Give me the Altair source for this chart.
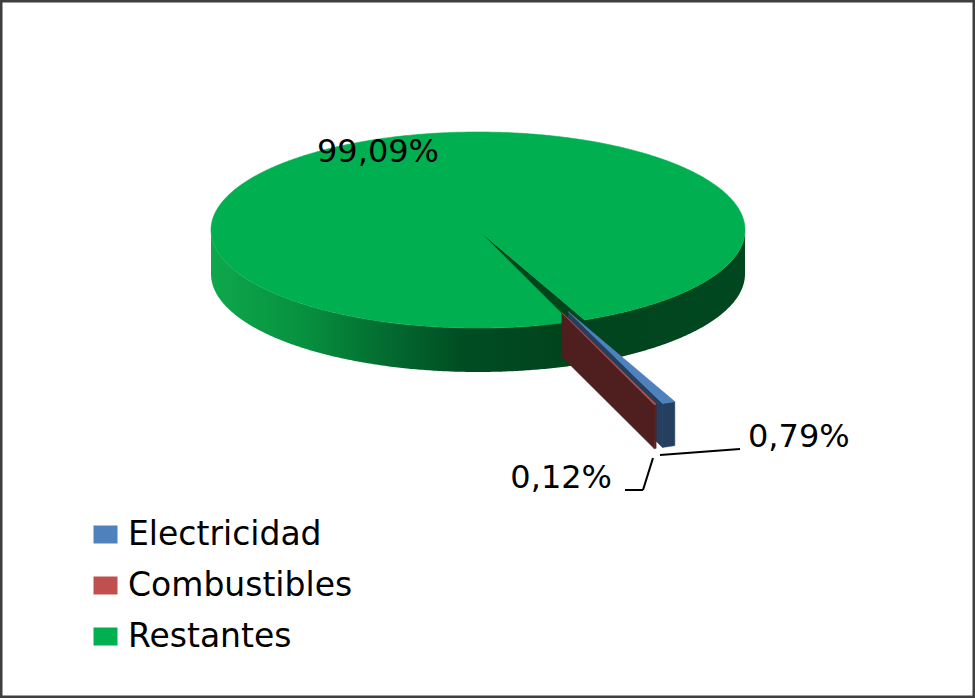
import altair as alt
import numpy as np
import pandas as pd

# ---------------- data ----------------
categories = ["Electricidad", "Combustibles", "Restantes"]
shares = [0.79, 0.12, 99.09]
top_colors = ["#4f81bd", "#c0504d", "#00b050"]
side_colors = ["#243f60", "#5a2120", "#00441b"]
exploded = [True, True, False]

# ---------------- layout of the 3-D pie ----------------
W, H = 975, 698
CX, CY, RX, RY, DEPTH = 478, 230, 267, 98, 44
START = 66.5          # first slice angle, degrees clockwise from 3 o'clock
EXPLODE = 0.9         # explosion distance as a fraction of the radius
FONT = "DejaVu Sans"


def pt(theta_deg, r=1.0, h=0.0, off=(0.0, 0.0)):
    t = np.radians(theta_deg)
    u = off[0] + r * np.cos(t)
    v = off[1] + r * np.sin(t)
    return CX + RX * u, CY + RY * v + DEPTH * h


def arc(a, b, h=0.0, off=(0.0, 0.0)):
    n = max(2, int(abs(b - a) / 0.5) + 1)
    return [pt(t, 1.0, h, off) for t in np.linspace(a, b, n)]


# slice angle bounds from the shares
bounds = []
acc = START
for s in shares:
    bounds.append((acc, acc + s * 3.6))
    acc += s * 3.6

offsets = []
for (a, b), ex in zip(bounds, exploded):
    m = np.radians((a + b) / 2)
    offsets.append((EXPLODE * np.cos(m), EXPLODE * np.sin(m)) if ex else (0.0, 0.0))

polys = []  # (name, list of points)
gi = categories.index("Restantes")
ga, gb = bounds[gi]
# green outer side band (front half)
polys.append(("band", arc(0, 180, 0) + arc(180, 0, 1)))
# green wall visible through the cut
polys.append(("gwall", [pt(gb, 0), pt(gb, 1, 0), pt(gb, 1, 1), pt(gb, 0, 1)]))
# green top face
polys.append(("gtop", [pt(0, 0)] + arc(ga, gb, 0)))
# exploded slices
for i, ex in enumerate(exploded):
    if not ex:
        continue
    a, b = bounds[i]
    off = offsets[i]
    polys.append((f"wall{i}", [pt(b, 0, 0, off), pt(b, 1, 0, off), pt(b, 1, 1, off), pt(b, 0, 1, off)]))
for i, ex in enumerate(exploded):
    if not ex:
        continue
    a, b = bounds[i]
    off = offsets[i]
    polys.append((f"outer{i}", arc(a, b, 0, off) + arc(b, a, 1, off)))
for i, ex in enumerate(exploded):
    if not ex:
        continue
    a, b = bounds[i]
    off = offsets[i]
    polys.append((f"top{i}", [pt(0, 0, 0, off)] + arc(a, b, 0, off)))

rows = []
for name, pts in polys:
    for k, (x, y) in enumerate(pts):
        rows.append({"poly": name, "ord": k, "x": float(x), "y": float(y)})
df = pd.DataFrame(rows)

xs = alt.Scale(domain=[0, W], nice=False, zero=False)
ys = alt.Scale(domain=[0, H], nice=False, zero=False, reverse=True)

band_grad = alt.Gradient(
    gradient="linear", x1=0, x2=1, y1=0, y2=0,
    stops=[
        alt.GradientStop(color="#0ea84c", offset=0),
        alt.GradientStop(color="#07913f", offset=0.17),
        alt.GradientStop(color="#036b30", offset=0.33),
        alt.GradientStop(color="#004d23", offset=0.47),
        alt.GradientStop(color="#00441d", offset=0.65),
        alt.GradientStop(color="#00471f", offset=1),
    ],
)


def fill_for(name):
    if name == "band":
        return band_grad
    if name == "gwall":
        return side_colors[gi]
    if name == "gtop":
        return top_colors[gi]
    i = int(name[-1])
    if name.startswith("wall"):
        return "#4f1f1f" if i == 1 else side_colors[i]
    if name.startswith("outer"):
        return side_colors[i]
    return top_colors[i]


layers = []
for name, _ in polys:
    f = fill_for(name)
    if isinstance(f, str):
        props = dict(interpolate="linear-closed", fill=f, stroke=f, strokeWidth=0.6)
    else:
        props = dict(interpolate="linear-closed", fill=f, strokeOpacity=0, strokeWidth=0)
    layers.append(
        alt.Chart(df[df.poly == name]).mark_line(**props).encode(
            x=alt.X("x:Q", scale=xs, axis=None),
            y=alt.Y("y:Q", scale=ys, axis=None),
            order="ord:Q",
        )
    )

# ---------------- labels ----------------
def pct(v):
    return f"{v:.2f}".replace(".", ",") + "%"

lab_df = pd.DataFrame({"cat": categories, "label": [pct(v) for v in shares]})
label_pos = {
    "Restantes": (378, 162, "center"),
    "Electricidad": (748, 447, "left"),
    "Combustibles": (612, 488, "right"),
}
for cat, (lx, ly, al) in label_pos.items():
    layers.append(
        alt.Chart(lab_df[lab_df.cat == cat]).mark_text(
            font=FONT, fontSize=32, color="black", align=al, baseline="alphabetic"
        ).encode(x=alt.value(lx), y=alt.value(ly), text="label:N")
    )

# leader lines
leaders = [
    (660, 455, 740, 449),
    (653, 458, 643, 490),
    (643, 490, 625, 490),
]
for x1, y1, x2, y2 in leaders:
    layers.append(
        alt.Chart(lab_df.head(1)).mark_rule(color="black", strokeWidth=2).encode(
            x=alt.value(x1), y=alt.value(y1), x2=alt.value(x2), y2=alt.value(y2)
        )
    )

# legend (carried by an off-canvas layer)
layers.append(
    alt.Chart(lab_df).mark_square(size=10, opacity=1).encode(
        x=alt.value(-100),
        y=alt.value(-100),
        fill=alt.Fill(
            "cat:N",
            scale=alt.Scale(domain=categories, range=top_colors),
            legend=alt.Legend(
                title=None,
                orient="none",
                legendX=89,
                legendY=518,
                symbolType="M-1,-0.75H1V0.75H-1Z",
                symbolSize=576,
                symbolStrokeWidth=0,
                symbolOpacity=1,
                labelFont=FONT,
                labelFontSize=33,
                labelColor="black",
                labelOffset=6,
                rowPadding=17,
                padding=0,
                labelLimit=400,
            ),
        ),
    )
)

chart = (
    alt.layer(*layers)
    .properties(width=W, height=H, padding=0, autosize="none", background="white")
    .configure_view(stroke="#3f3f3f", strokeWidth=5)
)

chart.save("out.html", embed_options={"renderer": "svg", "actions": False})
